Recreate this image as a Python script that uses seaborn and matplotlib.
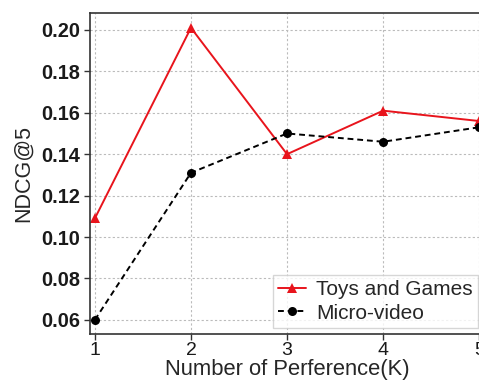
import matplotlib
matplotlib.use("Agg")
import matplotlib.pyplot as plt
import seaborn as sns
import pandas as pd

# Number of preference factors K
k_values = [1, 2, 3, 4, 5]
toys_ndcg = [0.109, 0.201, 0.140, 0.161, 0.156]
micro_ndcg = [0.060, 0.131, 0.150, 0.146, 0.153]
series_names = ["Toys and Games", "Micro-video"]
y_ticks = [0.06, 0.08, 0.10, 0.12, 0.14, 0.16, 0.18, 0.20]

df = pd.DataFrame({
    "K": k_values * 2,
    "NDCG@5": toys_ndcg + micro_ndcg,
    "dataset": [series_names[0]] * len(k_values) + [series_names[1]] * len(k_values),
})

sns.set_style("white")
plt.rcParams["font.family"] = ["Liberation Sans", "DejaVu Sans"]

fig = plt.figure(figsize=(4.79, 3.85), dpi=100)
ax = fig.add_axes([0.188, 0.1325, 0.8225, 0.834])

sns.lineplot(
    data=df, x="K", y="NDCG@5", hue="dataset", style="dataset",
    palette={series_names[0]: "#e8141c", series_names[1]: "black"},
    dashes={series_names[0]: "", series_names[1]: (3, 2)},
    markers={series_names[0]: "^", series_names[1]: "o"},
    markersize=6.5, linewidth=1.4, markeredgewidth=0, ax=ax,
)

ax.set_xlim(0.95, 5.05)
ax.set_ylim(0.0532, 0.2082)
ax.set_xticks(k_values)
ax.set_yticks(y_ticks)
ax.set_yticklabels([f"{v:.2f}" for v in y_ticks], fontweight="bold")
ax.tick_params(axis="both", length=4, width=1, color="#333333",
               left=True, bottom=True, pad=3, labelcolor="#1a1a1a")
ax.tick_params(axis="y", labelsize=14.4)
ax.tick_params(axis="x", labelsize=14, pad=2)

ax.grid(True, linestyle=(0, (2, 2)), color="#bbbbbb", linewidth=0.8)
for side in ["left", "bottom", "top", "right"]:
    ax.spines[side].set_color("#333333")
    ax.spines[side].set_linewidth(1.2)

ax.set_xlabel("Number of Perference(K)", fontsize=15.8, labelpad=0)
ax.set_ylabel("NDCG@5", fontsize=15.5, labelpad=5)

leg = ax.legend(loc="lower right", fontsize=15, frameon=True, fancybox=False,
                borderpad=0.25, labelspacing=0.2, handlelength=1.3, handletextpad=0.5,
                borderaxespad=0.3)
leg.get_frame().set_edgecolor("#cccccc")

fig.savefig("out.png", dpi=100)
